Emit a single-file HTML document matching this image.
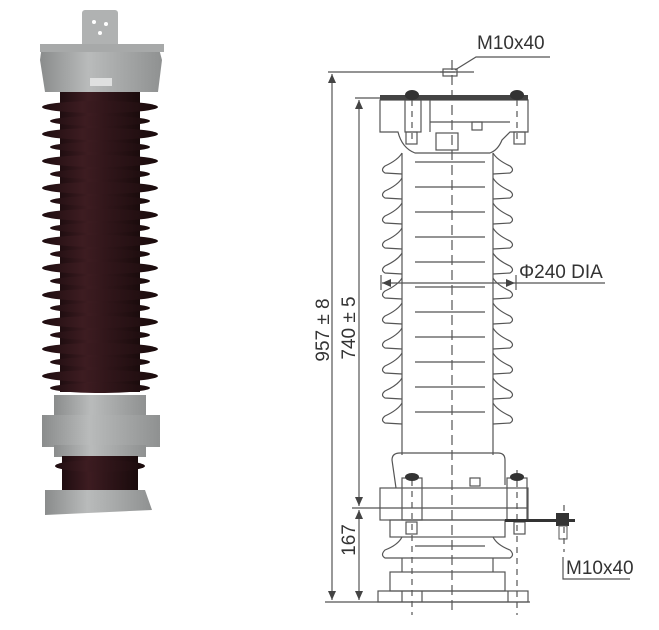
<!DOCTYPE html>
<html><head><meta charset="utf-8"><style>
html,body{margin:0;padding:0;background:#fff;}
svg{display:block;}
text{font-family:"Liberation Sans",sans-serif;fill:#333;}
</style></head><body>
<svg width="659" height="630" viewBox="0 0 659 630" xmlns="http://www.w3.org/2000/svg">
<defs>
<linearGradient id="br" x1="0" x2="1" y1="0" y2="0">
<stop offset="0" stop-color="#1f0d10"/><stop offset="0.35" stop-color="#3d1c21"/><stop offset="0.6" stop-color="#2f1519"/><stop offset="1" stop-color="#1a0b0c"/>
</linearGradient>
<linearGradient id="gr" x1="0" x2="1" y1="0" y2="0">
<stop offset="0" stop-color="#8a8c8c"/><stop offset="0.4" stop-color="#b9bbbb"/><stop offset="1" stop-color="#8f9191"/>
</linearGradient>
</defs>
<!-- PHOTO -->
<rect x="82" y="10" width="36" height="40" fill="#b0b2b2" rx="3"/>
<circle cx="94" cy="22" r="2" fill="#fff"/><circle cx="106" cy="24" r="2" fill="#fff"/><circle cx="100" cy="33" r="2" fill="#fff"/>
<path d="M42 45 L158 45 L162 60 L158 92 L45 92 L40 60 Z" fill="url(#gr)"/>
<rect x="40" y="44" width="124" height="8" fill="#a7a9a9"/>
<rect x="90" y="78" width="22" height="8" fill="#dfe0e0"/>
<rect x="60" y="92" width="80" height="300" fill="url(#br)"/>
<g fill="url(#br)">
<ellipse cx="100" cy="107" rx="58" ry="6"/><ellipse cx="100" cy="121" rx="50" ry="5"/>
<ellipse cx="100" cy="134" rx="58" ry="6"/><ellipse cx="100" cy="147" rx="50" ry="5"/>
<ellipse cx="100" cy="161" rx="58" ry="6"/><ellipse cx="100" cy="174" rx="50" ry="5"/>
<ellipse cx="100" cy="188" rx="58" ry="6"/><ellipse cx="100" cy="201" rx="50" ry="5"/>
<ellipse cx="100" cy="215" rx="58" ry="6"/><ellipse cx="100" cy="228" rx="50" ry="5"/>
<ellipse cx="100" cy="241" rx="58" ry="6"/><ellipse cx="100" cy="254" rx="50" ry="5"/>
<ellipse cx="100" cy="268" rx="58" ry="6"/><ellipse cx="100" cy="281" rx="50" ry="5"/>
<ellipse cx="100" cy="295" rx="58" ry="6"/><ellipse cx="100" cy="308" rx="50" ry="5"/>
<ellipse cx="100" cy="322" rx="58" ry="6"/><ellipse cx="100" cy="335" rx="50" ry="5"/>
<ellipse cx="100" cy="349" rx="58" ry="6"/><ellipse cx="100" cy="362" rx="50" ry="5"/>
<ellipse cx="100" cy="376" rx="58" ry="6"/><ellipse cx="100" cy="388" rx="50" ry="5"/>
</g>
<rect x="54" y="395" width="92" height="22" fill="url(#gr)"/>
<rect x="42" y="415" width="118" height="32" fill="url(#gr)"/>
<rect x="54" y="445" width="92" height="12" fill="url(#gr)"/>
<rect x="62" y="456" width="76" height="36" fill="url(#br)"/>
<ellipse cx="100" cy="466" rx="45" ry="6" fill="url(#br)"/>
<path d="M45 490 L145 490 L152 510 L45 515 Z" fill="url(#gr)"/>
<!-- DRAWING -->
<g stroke="#555" stroke-width="1.2" fill="none">
<line x1="328" y1="72" x2="455" y2="72"/>
<line x1="332" y1="74" x2="332" y2="600"/>
<line x1="355" y1="98" x2="382" y2="98"/>
<line x1="359" y1="100" x2="359" y2="506"/>
<line x1="352" y1="508" x2="528" y2="508"/>
<line x1="359" y1="510" x2="359" y2="600"/>
<line x1="325" y1="602" x2="530" y2="602"/>
<path d="M380 100 L528 100 L528 132 L510 132 L502 140 Q498 150 490 153 L415 153 Q402 148 398 132 L380 132 Z"/>
<path d="M430 100 L430 132 M430 122 L510 122"/>
<rect x="405" y="100" width="16" height="32"/>
<rect x="436" y="133" width="22" height="17"/>
<rect x="472" y="122" width="10" height="8"/>
<rect x="406" y="132" width="11" height="12"/><rect x="514" y="132" width="11" height="12"/>
<line x1="402" y1="153" x2="402" y2="455"/><line x1="493" y1="153" x2="493" y2="455"/>
<path d="M402 153 Q398 160 385 166 Q380 170 385 173 L402 174 M493 153 Q497 160 510 166 Q515 170 510 173 L493 174
M402 178 Q398 185 385 191 Q380 195 385 198 L402 199 M493 178 Q497 185 510 191 Q515 195 510 198 L493 199
M402 203 Q398 210 385 216 Q380 220 385 223 L402 224 M493 203 Q497 210 510 216 Q515 220 510 223 L493 224
M402 228 Q398 235 385 241 Q380 245 385 248 L402 249 M493 228 Q497 235 510 241 Q515 245 510 248 L493 249
M402 253 Q398 260 385 266 Q380 270 385 273 L402 274 M493 253 Q497 260 510 266 Q515 270 510 273 L493 274
M402 278 Q398 285 385 291 Q380 295 385 298 L402 299 M493 278 Q497 285 510 291 Q515 295 510 298 L493 299
M402 303 Q398 310 385 316 Q380 320 385 323 L402 324 M493 303 Q497 310 510 316 Q515 320 510 323 L493 324
M402 328 Q398 335 385 341 Q380 345 385 348 L402 349 M493 328 Q497 335 510 341 Q515 345 510 348 L493 349
M402 353 Q398 360 385 366 Q380 370 385 373 L402 374 M493 353 Q497 360 510 366 Q515 370 510 373 L493 374
M402 378 Q398 385 385 391 Q380 395 385 398 L402 399 M493 378 Q497 385 510 391 Q515 395 510 398 L493 399
M402 403 Q398 410 385 416 Q380 420 385 423 L402 424 M493 403 Q497 410 510 416 Q515 420 510 423 L493 424"/>
<path d="M415 162 H485 M415 187 H485 M415 212 H485 M415 237 H485 M415 262 H485 M415 287 H485 M415 312 H485 M415 337 H485 M415 362 H485 M415 387 H485 M415 412 H485"/>
<path d="M396 488 L392 460 Q392 453 400 453 L498 453 Q505 453 505 460 L505 485"/>
<rect x="380" y="488" width="148" height="32"/>
<rect x="402" y="478" width="20" height="42"/>
<rect x="507" y="478" width="20" height="42"/>
<rect x="470" y="478" width="10" height="8"/>
<rect x="390" y="520" width="115" height="17"/>
<path d="M402 537 Q398 545 385 550 Q380 555 385 558 L510 558 Q515 555 510 550 Q497 545 493 537"/>
<path d="M415 546 H485"/>
<line x1="402" y1="558" x2="402" y2="572"/><line x1="493" y1="558" x2="493" y2="572"/>
<rect x="390" y="572" width="115" height="19"/>
<rect x="378" y="591" width="150" height="11"/>
<line x1="402" y1="591" x2="402" y2="602"/><line x1="422" y1="591" x2="422" y2="602"/><line x1="508" y1="591" x2="508" y2="602"/>
<rect x="406" y="522" width="11" height="12"/><rect x="514" y="522" width="11" height="12"/>
<line x1="382" y1="283" x2="605" y2="283"/>
<line x1="381" y1="275" x2="381" y2="290"/><line x1="516" y1="275" x2="516" y2="290"/>
<path d="M455 70 L476 57 L550 57"/>
<rect x="443" y="69" width="14" height="7"/><line x1="440" y1="72" x2="474" y2="72"/>
<path d="M563 557 V579 H630"/>
<line x1="452" y1="60" x2="452" y2="615" stroke-dasharray="10,5"/>
<line x1="412" y1="480" x2="412" y2="615" stroke-dasharray="6,5"/>
<line x1="517" y1="470" x2="517" y2="615" stroke-dasharray="6,5"/>
<line x1="412" y1="100" x2="412" y2="140" stroke-dasharray="6,5"/>
<line x1="517" y1="100" x2="517" y2="140" stroke-dasharray="6,5"/>
<line x1="564" y1="505" x2="564" y2="552" stroke-dasharray="6,5"/>
</g>
<rect x="380" y="95" width="148" height="5" fill="#444"/>
<ellipse cx="412" cy="95" rx="7" ry="5" fill="#333"/><ellipse cx="517" cy="95" rx="7" ry="5" fill="#333"/>
<ellipse cx="412" cy="477" rx="7" ry="4" fill="#333"/><ellipse cx="517" cy="477" rx="7" ry="4" fill="#333"/>
<rect x="505" y="519" width="70" height="3" fill="#333"/>
<rect x="556" y="513" width="13" height="13" fill="#333"/>
<rect x="559" y="526" width="8" height="13" fill="none" stroke="#555"/>
<g fill="#444">
<path d="M332 74 l-4 9 h8 Z"/><path d="M332 600 l-4 -9 h8 Z"/>
<path d="M359 100 l-4 9 h8 Z"/><path d="M359 506 l-4 -9 h8 Z"/>
<path d="M359 510 l-4 9 h8 Z"/><path d="M359 600 l-4 -9 h8 Z"/>
<path d="M382 283 l9 -4 v8 Z"/><path d="M515 283 l-9 -4 v8 Z"/>
</g>
<text x="477" y="49" font-size="19">M10x40</text>
<text x="519" y="278" font-size="19">Φ240 DIA</text>
<text x="566" y="574" font-size="19">M10x40</text>
<text transform="translate(329,330) rotate(-90)" text-anchor="middle" font-size="19">957 ± 8</text>
<text transform="translate(355,328) rotate(-90)" text-anchor="middle" font-size="19">740 ± 5</text>
<text transform="translate(355,540) rotate(-90)" text-anchor="middle" font-size="19">167</text>
</svg>
</body></html>
